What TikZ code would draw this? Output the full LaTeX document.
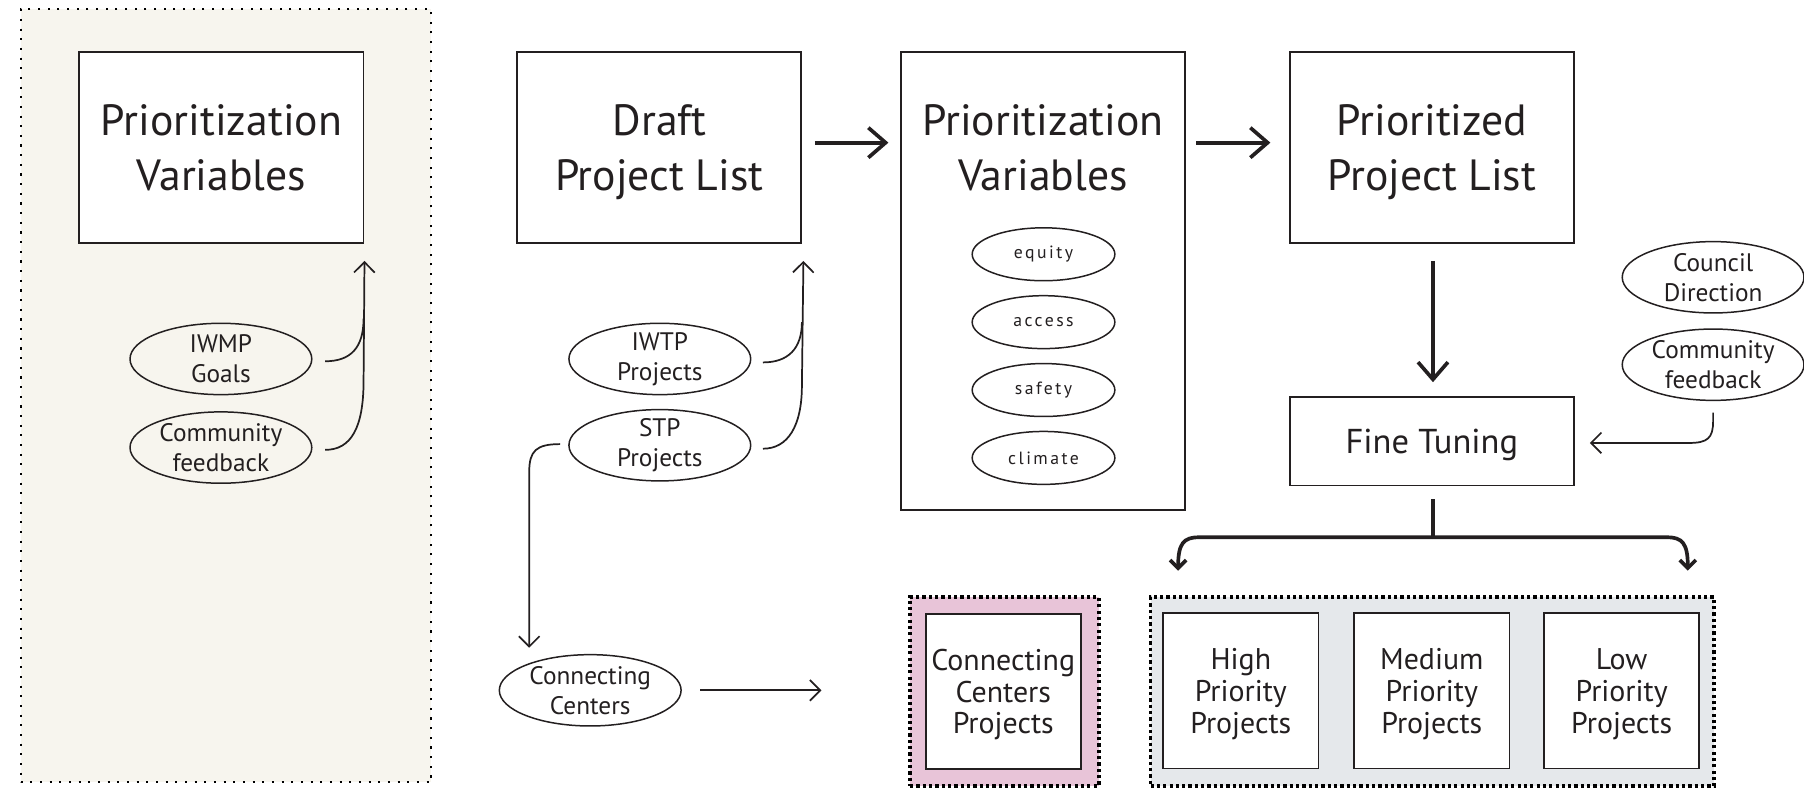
\documentclass[tikz,border=0pt]{standalone}
\usepackage{fontspec}
\setmainfont{PT Sans}
\newfontfamily\spacedfont[LetterSpace=14]{PT Sans}
\usetikzlibrary{arrows.meta,shapes.geometric,calc}
\definecolor{cream}{RGB}{247,245,238}
\definecolor{pinkbg}{RGB}{232,196,216}
\definecolor{graybg}{RGB}{229,232,235}
\definecolor{ink}{RGB}{35,31,32}
\begin{document}
\begin{tikzpicture}[x=0.5pt,y=-0.5pt,
  box/.style={draw=ink, line width=0.8pt, fill=white, rectangle, inner sep=0pt, align=center, text=ink},
  bigfont/.style={font=\fontsize{19}{24}\selectfont},
  bigbox/.style={box, bigfont, text depth=0pt, minimum width=123.5pt, minimum height=83pt},
  smallbox/.style={box, text depth=0pt, minimum width=67.5pt, minimum height=67.5pt, font=\fontsize{13}{13.8}\selectfont},
  oval/.style={draw=ink, line width=0.65pt, ellipse, inner sep=0pt, minimum width=79pt, minimum height=31pt},
  ovaltext/.style={font=\fontsize{11}{13}\selectfont, align=center, text=ink, inner sep=0pt},
  varoval/.style={draw=ink, line width=0.65pt, ellipse, inner sep=0pt, minimum width=62pt, minimum height=23pt},
  vartext/.style={font=\spacedfont\fontsize{7.7}{9}\selectfont, text=ink, inner sep=0pt},
  grp/.style={rectangle, inner sep=0pt, draw=black, line width=1.6pt, dash pattern=on 1.4pt off 1.35pt},
  skline/.style={draw=ink, line width=0.75pt},
  sk/.style={skline, -{Straight Barb[length=4.5pt,width=9pt]}},
  mainarrow/.style={draw=ink, line width=1.6pt, -{Straight Barb[length=7.5pt,width=13pt]}},
  thickline/.style={draw=ink, line width=1.6pt},
  forkarrow/.style={thickline, -{Straight Barb[length=3.5pt,width=7pt]}}
]
\useasboundingbox (0,0) rectangle (1568,685);

% backgrounds
\node[rectangle, inner sep=0pt, fill=cream, draw=black, line width=0.9pt, dash pattern=on 0.9pt off 3.3pt,
      minimum width=178.5pt, minimum height=336pt] (bgL) at (196.5,344) {};
\node[grp, fill=pinkbg, minimum width=82pt, minimum height=82pt] (pinkgrp) at (873,601) {};
\node[grp, fill=graybg, minimum width=245pt, minimum height=82pt] (graygrp) at (1245,601) {};

% main boxes
\node[bigbox] (pv1) at (192.5,128) {Prioritization\\Variables};
\node[bigbox] (draft) at (573,128) {Draft\\Project List};
\node[box, minimum width=123.5pt, minimum height=199pt] (pv2) at (906.5,244) {};
\node[bigfont, text depth=0pt, align=center, text=ink, inner sep=0pt] (pv2t) at (906.5,128) {Prioritization\\Variables};
\node[bigbox] (pl) at (1244.5,128) {Prioritized\\Project List};
\node[box, text depth=0pt, minimum width=123.5pt, minimum height=38.5pt, font=\fontsize{15}{18}\selectfont] (ft) at (1244.5,383.5) {Fine Tuning};

% variable ovals
\node[varoval, label={[vartext]center:equity}] (equity) at (907,221) {};
\node[varoval, label={[vartext]center:access}] (access) at (907,280) {};
\node[varoval, label={[vartext]center:safety}] (safety) at (907,339) {};
\node[varoval, label={[vartext]center:climate}] (climate) at (907,398) {};

% input ovals
\node[oval, label={[ovaltext]center:IWMP\\Goals}] (iwmp) at (192,312) {};
\node[oval, label={[ovaltext]center:Community\\feedback}] (commL) at (192,389) {};
\node[oval, label={[ovaltext]center:IWTP\\Projects}] (iwtp) at (573.5,312) {};
\node[oval, label={[ovaltext]center:STP\\Projects}] (stp) at (573.5,387) {};
\node[oval, label={[ovaltext]center:Connecting\\Centers}] (conn) at (513,600) {};
\node[oval, label={[ovaltext]center:Council\\Direction}] (council) at (1489,241) {};
\node[oval, label={[ovaltext]center:Community\\feedback}] (commR) at (1489,317) {};

% output boxes
\node[smallbox] (ccp) at (872,601) {Connecting\\Centers\\Projects};
\node[smallbox] (high) at (1078.5,600.5) {High\\Priority\\Projects};
\node[smallbox] (med) at (1244.5,600.5) {Medium\\Priority\\Projects};
\node[smallbox] (low) at (1409.5,600.5) {Low\\Priority\\Projects};

% left connectors
\coordinate (pv1tip) at ($(pv1.south east)+(0,15)$);
\draw[skline] ($(iwmp.east)+(11,2)$) .. controls (305,314) and (316,302) .. (316,277);
\draw[sk] ($(commL.east)+(11,2)$) .. controls (305,391) and (316,372) .. (316,331) -- (pv1tip);

% middle connectors
\coordinate (drafttip) at ($(draft.south east)+(1,15)$);
\draw[skline] ($(iwtp.east)+(10,3)$) .. controls (685,315) and (697,303) .. (697,280);
\draw[sk] ($(stp.east)+(10,3)$) .. controls (685,390) and (697,370) .. (697,335) -- (drafttip);
\coordinate (conntip) at (460,563);
\draw[sk] ($(stp.west)+(-7,-1)$) .. controls (466,386) and (460,392) .. (460,410) -- (conntip);
\coordinate (conntarget) at (714,600);
\draw[sk] ($(conn.east)+(16,0)$) -- (conntarget);

% main flow arrows
\draw[mainarrow] ($(draft.east)+(11,-4)$) -- ($(pv2.west|-draft.east)+(-10,-4)$);
\draw[mainarrow] ($(pv2.east|-pl.west)+(9,-4)$) -- ($(pl.west)+(-16,-4)$);
\draw[mainarrow] ($(pl.south)+(1,15)$) -- ($(ft.north)+(1,-12)$);

% community feedback to fine tuning
\draw[sk] ($(commR.south)+(0,10)$) -- (1489,366) .. controls (1489,381) and (1484,385) .. (1468,385) -- ($(ft.east)+(13,1.5)$);

% fork
\coordinate (fk) at (1245.5,467);
\coordinate (forkL) at (1024,496);
\coordinate (forkR) at (1467,496);
\draw[thickline] ($(ft.south)+(1,11)$) -- (fk);
\draw[forkarrow] (fk) -- (1042,467) .. controls (1029,467) and (1024,472) .. (forkL);
\draw[forkarrow] (fk) -- (1449,467) .. controls (1462,467) and (1467,472) .. (forkR);
\end{tikzpicture}
\end{document}
